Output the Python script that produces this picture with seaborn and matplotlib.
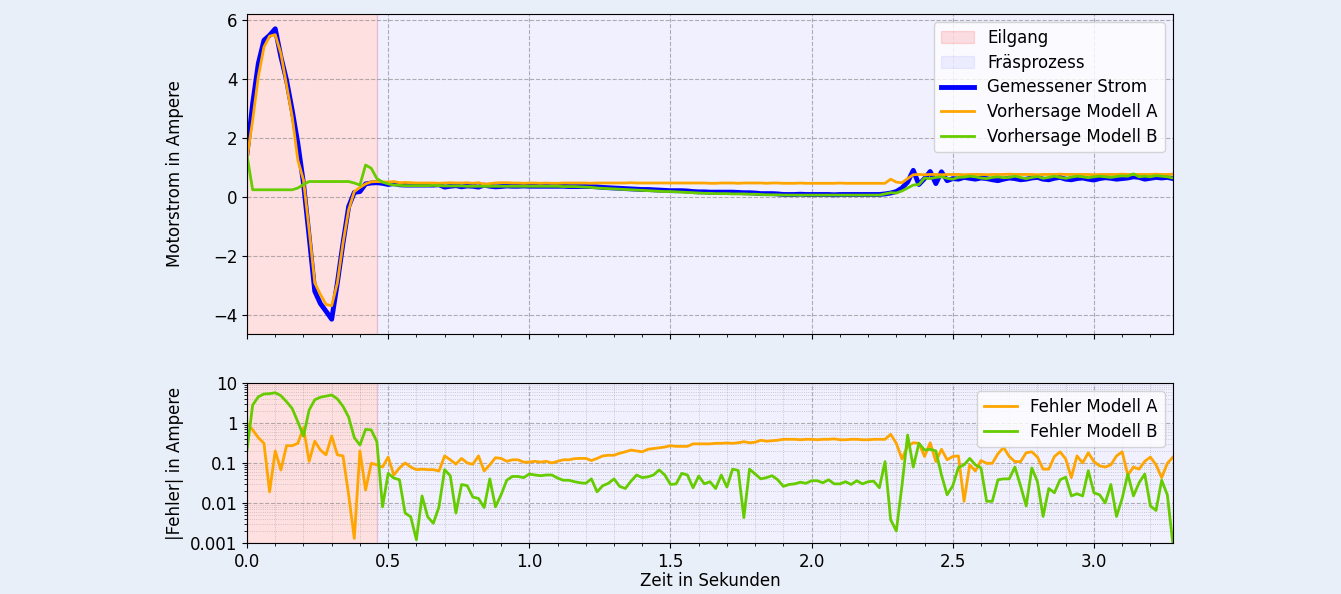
import numpy as np
import matplotlib
matplotlib.use("Agg")
import matplotlib.pyplot as plt
import seaborn as sns
from matplotlib.ticker import MultipleLocator, NullFormatter

# ---------------- data (sampled every 0.02 s) ----------------
dt = 0.02

measured = [
    1.48, 3.17, 4.52, 5.31, 5.48, 5.70, 4.75, 3.96, 2.94, 1.82,
    0.46, -1.34, -3.20, -3.62, -3.88, -4.15, -2.92, -1.57, -0.33, 0.15,
    0.18, 0.44, 0.47, 0.48, 0.46,
    0.42, 0.45, 0.41, 0.40, 0.40, 0.40, 0.40, 0.40, 0.40, 0.41,
    0.33, 0.36, 0.38, 0.34, 0.37, 0.36, 0.33, 0.40, 0.36, 0.34,
    0.35, 0.37, 0.36, 0.36, 0.37, 0.36, 0.36, 0.36, 0.36, 0.36,
    0.36, 0.36, 0.35, 0.35, 0.35, 0.35, 0.35, 0.34, 0.32, 0.31,
    0.30, 0.29, 0.28, 0.27, 0.26, 0.25, 0.25, 0.24, 0.23, 0.22,
    0.21, 0.21, 0.21, 0.20, 0.18, 0.17, 0.17, 0.16, 0.16, 0.16,
    0.16, 0.16, 0.15, 0.14, 0.14, 0.13, 0.11, 0.11, 0.11, 0.10,
    0.08, 0.08, 0.08, 0.09, 0.08, 0.08, 0.08, 0.08, 0.08, 0.07,
    0.08, 0.08, 0.08, 0.08, 0.08, 0.08, 0.08, 0.08,
    0.10, 0.13, 0.18, 0.30, 0.50, 0.90, 0.42, 0.62, 0.86, 0.45, 0.85, 0.55,
    0.62, 0.60, 0.66, 0.63, 0.60, 0.64, 0.62, 0.58, 0.55, 0.60,
    0.64, 0.62, 0.58, 0.60, 0.64, 0.66, 0.60, 0.58, 0.63, 0.66,
    0.60, 0.58, 0.62, 0.64, 0.60, 0.57, 0.62, 0.65, 0.63, 0.60,
    0.62, 0.64, 0.68, 0.66, 0.60, 0.63, 0.66, 0.64, 0.66, 0.62,
]

pred_a = [
    1.30, 2.60, 4.07, 5.08, 5.45, 5.50, 4.86, 3.79, 2.72, 1.25,
    0.57, -1.12, -2.92, -3.31, -3.65, -3.69, -2.92, -1.57, -0.44, 0.18,
    0.32, 0.44, 0.51, 0.52, 0.51,
    0.50, 0.52, 0.48, 0.49, 0.48, 0.47, 0.47, 0.47, 0.47, 0.46,
    0.47, 0.48, 0.47, 0.47, 0.48, 0.46, 0.48, 0.43, 0.45, 0.47,
    0.48, 0.48, 0.47, 0.47, 0.46, 0.47, 0.47, 0.46, 0.47, 0.46,
    0.46, 0.47, 0.47, 0.47, 0.47, 0.47, 0.46, 0.47, 0.47, 0.47,
    0.47, 0.47, 0.47, 0.48, 0.47, 0.47, 0.47, 0.47, 0.47, 0.47,
    0.47, 0.47, 0.47, 0.47, 0.47, 0.47, 0.47, 0.46, 0.46, 0.47,
    0.47, 0.47, 0.46, 0.47, 0.47, 0.47, 0.47, 0.46, 0.47, 0.47,
    0.46, 0.46, 0.46, 0.47, 0.46, 0.46, 0.46, 0.46, 0.46, 0.46,
    0.47, 0.46, 0.46, 0.46, 0.46, 0.46, 0.46, 0.46,
    0.46, 0.60, 0.50, 0.48, 0.62, 0.75, 0.76, 0.75, 0.76, 0.76, 0.75, 0.76,
    0.76, 0.76, 0.75, 0.76, 0.76, 0.76, 0.75, 0.76, 0.76, 0.76,
    0.77, 0.76, 0.76, 0.76, 0.76, 0.75, 0.76, 0.76, 0.76, 0.77,
    0.76, 0.76, 0.76, 0.76, 0.76, 0.75, 0.76, 0.76, 0.76, 0.76,
    0.77, 0.76, 0.76, 0.76, 0.76, 0.76, 0.77, 0.76, 0.76, 0.77,
]

pred_b = [
    1.40, 0.24, 0.24, 0.24, 0.24, 0.24, 0.24, 0.24, 0.24, 0.30,
    0.42, 0.52, 0.52, 0.52, 0.52, 0.52, 0.52, 0.52, 0.52, 0.47,
    0.40, 1.08, 0.97, 0.62, 0.50,
    0.44, 0.40, 0.39, 0.38, 0.38, 0.38, 0.38, 0.38, 0.39, 0.38,
    0.37, 0.37, 0.37, 0.37, 0.36, 0.36, 0.36, 0.36, 0.36, 0.36,
    0.36, 0.36, 0.36, 0.36, 0.36, 0.36, 0.36, 0.36, 0.36, 0.36,
    0.36, 0.35, 0.35, 0.35, 0.34, 0.33, 0.32, 0.30, 0.29, 0.28,
    0.27, 0.26, 0.25, 0.24, 0.23, 0.22, 0.21, 0.20, 0.19, 0.18,
    0.18, 0.17, 0.16, 0.15, 0.14, 0.13, 0.12, 0.12, 0.11, 0.11,
    0.11, 0.10, 0.10, 0.10, 0.09, 0.09, 0.08, 0.07, 0.07, 0.07,
    0.06, 0.06, 0.06, 0.06, 0.06, 0.06, 0.06, 0.06, 0.06, 0.06,
    0.06, 0.06, 0.06, 0.06, 0.06, 0.06, 0.06, 0.06,
    0.10, 0.14, 0.13, 0.20, 0.30, 0.40, 0.42, 0.64, 0.62, 0.66, 0.68, 0.63,
    0.60, 0.66, 0.67, 0.70, 0.68, 0.64, 0.62, 0.66, 0.68, 0.65,
    0.66, 0.70, 0.66, 0.62, 0.66, 0.69, 0.63, 0.66, 0.70, 0.66,
    0.63, 0.67, 0.70, 0.68, 0.65, 0.68, 0.70, 0.68, 0.66, 0.69,
    0.71, 0.70, 0.78, 0.68, 0.70, 0.68, 0.72, 0.70, 0.68, 0.64,
]

err_a = [
    0.98, 0.67, 0.43, 0.31, 0.019, 0.20, 0.067, 0.27, 0.27, 0.31,
    0.76, 0.11, 0.35, 0.21, 0.16, 0.47, 0.16, 0.15, 0.016, 0.0013,
    0.20, 0.021,
    0.098, 0.09, 0.079, 0.14, 0.05, 0.075, 0.10, 0.079, 0.068, 0.07,
    0.068, 0.068, 0.063, 0.15, 0.12, 0.094, 0.13, 0.10, 0.093, 0.15,
    0.063, 0.09, 0.135, 0.13, 0.11, 0.12, 0.12, 0.105, 0.105, 0.11,
    0.105, 0.11, 0.10, 0.11, 0.12, 0.12,
    0.128, 0.13, 0.13, 0.115, 0.13, 0.15, 0.156, 0.156, 0.175, 0.19,
    0.21, 0.20, 0.19, 0.22, 0.23, 0.24, 0.25, 0.27, 0.26, 0.26,
    0.26, 0.30, 0.30, 0.30, 0.30, 0.31, 0.31, 0.315, 0.31, 0.32,
    0.34, 0.32, 0.33, 0.37, 0.35,
    0.36, 0.37, 0.39, 0.39, 0.39, 0.38, 0.39, 0.39, 0.38, 0.39,
    0.39, 0.40, 0.38, 0.38, 0.39, 0.39, 0.38, 0.38, 0.39, 0.39, 0.39,
    0.52, 0.31, 0.126, 0.26, 0.32, 0.31, 0.145, 0.32, 0.108, 0.22, 0.12, 0.145,
    0.15, 0.011, 0.09, 0.063, 0.115, 0.098, 0.098, 0.17, 0.245, 0.145,
    0.108, 0.108, 0.18, 0.19, 0.14, 0.07, 0.07, 0.145, 0.19, 0.126,
    0.043, 0.15, 0.10, 0.18, 0.108, 0.085, 0.079, 0.09, 0.15, 0.19,
    0.05, 0.079, 0.07, 0.11, 0.14, 0.09, 0.043, 0.098, 0.14,
]

err_b = [
    0.21, 2.8, 4.5, 5.3, 5.4, 5.7, 4.8, 3.4, 2.3, 1.07,
    0.47, 2.1, 3.8, 4.4, 4.7, 5.0, 4.0, 2.6, 1.4, 0.43,
    0.28, 0.69,
    0.67, 0.34, 0.008, 0.055, 0.042, 0.038, 0.0056, 0.0045, 0.0012, 0.015,
    0.0045, 0.0031, 0.008, 0.068, 0.048, 0.0056, 0.029, 0.027, 0.014, 0.013,
    0.0077, 0.04, 0.008, 0.016, 0.037, 0.046, 0.046, 0.043, 0.053, 0.05,
    0.048, 0.05, 0.05, 0.042, 0.037, 0.037,
    0.034, 0.032, 0.031, 0.04, 0.019, 0.027, 0.031, 0.04, 0.026, 0.023,
    0.035, 0.05, 0.043, 0.045, 0.05, 0.067, 0.05, 0.029, 0.03, 0.055,
    0.05, 0.024, 0.047, 0.03, 0.034, 0.023, 0.05, 0.025, 0.07, 0.065,
    0.0043, 0.07, 0.053, 0.04, 0.043,
    0.048, 0.038, 0.026, 0.029, 0.03, 0.033, 0.031, 0.036, 0.036, 0.032,
    0.038, 0.03, 0.03, 0.034, 0.029, 0.036, 0.03, 0.034, 0.035, 0.024, 0.108,
    0.0038, 0.002, 0.027, 0.5, 0.079, 0.31, 0.21, 0.22, 0.2, 0.05, 0.016, 0.027,
    0.077, 0.09, 0.13, 0.09, 0.075, 0.011, 0.011, 0.038, 0.04, 0.04,
    0.079, 0.027, 0.0084, 0.075, 0.034, 0.0046, 0.023, 0.018, 0.038, 0.044,
    0.015, 0.017, 0.015, 0.064, 0.018, 0.016, 0.010, 0.029, 0.0046, 0.013,
    0.053, 0.015, 0.032, 0.053, 0.0084, 0.0065, 0.037, 0.016, 0.0009,
]

t = np.arange(len(measured)) * dt

phase_labels = ["Eilgang", "Fräsprozess"]
phase_bounds = [0.0, 0.46, t[-1]]
phase_colors = ["red", "blue"]
phase_alpha = [0.12, 0.06]

series_labels = ["Gemessener Strom", "Vorhersage Modell A", "Vorhersage Modell B"]
error_labels = ["Fehler Modell A", "Fehler Modell B"]
err_ticks = [0.001, 0.01, 0.1, 1, 10]
err_tick_labels = ["0.001", "0.01", "0.1", "1", "10"]

# ---------------- figure ----------------
plt.rcParams['font.family'] = ['DejaVu Sans']
bg = '#e9eff8'
fig = plt.figure(figsize=(13.41, 5.94), dpi=100, facecolor=bg)
ax1 = fig.add_axes([0.1842, 0.4377, 0.6905, 0.5387])
ax2 = fig.add_axes([0.1842, 0.0859, 0.6905, 0.2694], sharex=ax1)

c_meas = '#0000ff'
c_a = '#ffa500'
c_b = '#66cc00'

for ax, lab in ((ax1, True), (ax2, False)):
    for i in range(2):
        ax.axvspan(phase_bounds[i], phase_bounds[i + 1], color=phase_colors[i],
                   alpha=phase_alpha[i], label=phase_labels[i] if lab else None)

sns.lineplot(x=t, y=measured, ax=ax1, color=c_meas, lw=3.5, label=series_labels[0])
sns.lineplot(x=t, y=pred_a, ax=ax1, color=c_a, lw=2, label=series_labels[1])
sns.lineplot(x=t, y=pred_b, ax=ax1, color=c_b, lw=2, label=series_labels[2])

sns.lineplot(x=t, y=err_a, ax=ax2, color=c_a, lw=2, label=error_labels[0])
sns.lineplot(x=t, y=err_b, ax=ax2, color=c_b, lw=2, label=error_labels[1])

ax1.set_xlim(0, t[-1])
ax1.set_ylim(-4.65, 6.2)
ax1.xaxis.set_major_locator(MultipleLocator(0.5))
ax1.xaxis.set_minor_locator(MultipleLocator(0.1))
ax1.yaxis.set_major_locator(MultipleLocator(2))
ax1.grid(True, which='major', linestyle='--', color='gray', alpha=0.6, lw=0.8)
ax1.tick_params(labelbottom=False, labelsize=12)
ax1.set_ylabel("Motorstrom in Ampere", fontsize=12)
ax1.set_xlabel("")
ax1.legend(loc='upper right', fontsize=12, labelspacing=0.4)

ax2.set_yscale('log')
ax2.set_ylim(1e-3, 10)
ax2.set_yticks(err_ticks)
ax2.set_yticklabels(err_tick_labels)
ax2.yaxis.set_minor_formatter(NullFormatter())
ax2.grid(True, which='major', linestyle='--', color='gray', alpha=0.6, lw=0.8)
ax2.grid(True, which='minor', linestyle=':', color='gray', alpha=0.45, lw=0.6)
ax2.tick_params(labelsize=12)
ax2.set_ylabel("|Fehler| in Ampere", fontsize=12)
ax2.set_xlabel("Zeit in Sekunden", fontsize=12, labelpad=1)
ax2.legend(loc='upper right', fontsize=12, labelspacing=0.4)

# align both y-labels at the same horizontal position
ax1.yaxis.set_label_coords(-0.068, 0.5)
ax2.yaxis.set_label_coords(-0.068, 0.5)

fig.savefig("out.png", dpi=100, facecolor=bg)
